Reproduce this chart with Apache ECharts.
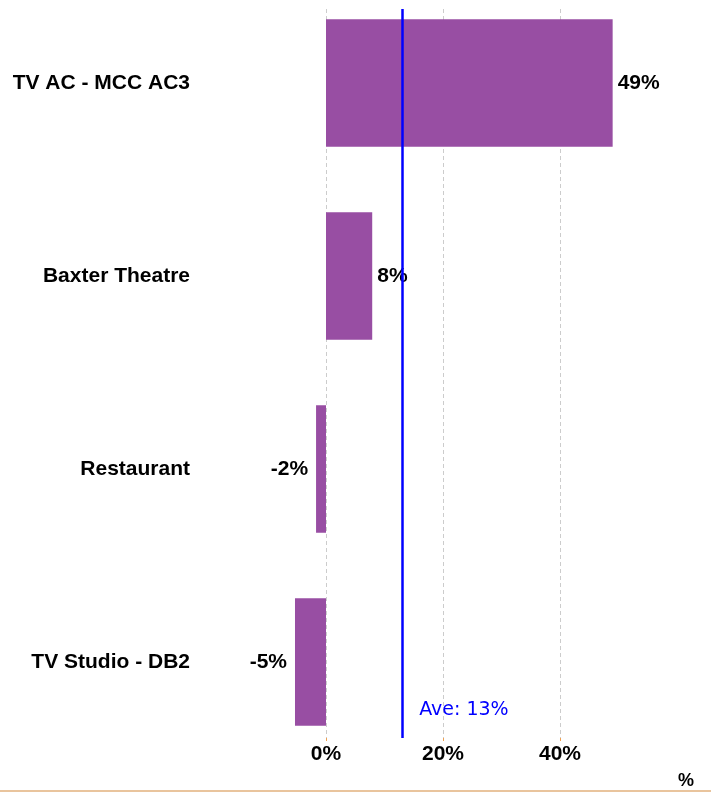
<!DOCTYPE html>
<html>
<head>
    <meta charset="utf-8">
    <title>chart</title>
    <script src="https://cdn.jsdelivr.net/npm/echarts@6/dist/echarts.min.js"></script>
    <style>
        html, body { margin: 0; padding: 0; background: #fff; }
        #main { width: 711px; height: 793px; }
    </style>
</head>
<body>
<div id="main"></div>
<script>
    // data
    var categories = ['TV AC - MCC AC3', 'Baxter Theatre', 'Restaurant', 'TV Studio - DB2'];
    var values = [0.49, 0.079, -0.017, -0.053];
    var average = 0.125;          // shown as "Ave: 13%"
    var tickValues = [0, 0.2, 0.4];
    var xMin = -0.2, xMax = 0.6, xStep = 0.2;

    var font = '"Liberation Sans", Arial, sans-serif';
    var pct = function (v) { return Math.round(v * 100) + '%'; };

    var barData = [];
    for (var i = 0; i < values.length; i++) {
        barData.push({
            value: values[i],
            label: {position: values[i] >= 0 ? 'right' : 'left', distance: values[i] >= 0 ? 5 : 8}
        });
    }

    var chart = echarts.init(document.getElementById('main'));
    var option = {
        animation: false,
        grid: [
            {left: 209, right: 34, top: -13.5, bottom: 34.5, outerBoundsMode: 'none'},   // bars
            {left: 209, right: 34, top: 9, bottom: 55, outerBoundsMode: 'none'}          // grid lines, ticks, average
        ],
        xAxis: [
            {gridIndex: 0, type: 'value', min: xMin, max: xMax, interval: xStep, show: false},
            {
                gridIndex: 1, type: 'value', min: xMin, max: xMax, interval: xStep,
                axisLine: {show: false},
                axisTick: {show: true, length: 3, customValues: tickValues, lineStyle: {color: '#f0a050'}},
                axisLabel: {
                    customValues: tickValues, formatter: pct, margin: 6,
                    color: '#000', fontWeight: 'bold', fontSize: 21, fontFamily: font
                },
                splitLine: {
                    show: true,
                    lineStyle: {color: '#cccccc', type: [4, 3], width: 1}
                }
            }
        ],
        yAxis: [
            {
                gridIndex: 0, type: 'category', data: categories, inverse: true,
                axisLine: {show: false}, axisTick: {show: false}, splitLine: {show: false},
                axisLabel: {margin: 19, color: '#000', fontWeight: 'bold', fontSize: 21, fontFamily: font}
            },
            {gridIndex: 1, type: 'category', data: categories, inverse: true, show: false}
        ],
        series: [
            {
                type: 'bar', xAxisIndex: 0, yAxisIndex: 0,
                data: barData, barWidth: '66%',
                itemStyle: {color: '#984ea3'},
                label: {
                    show: true, formatter: function (p) { return pct(p.value); },
                    color: '#000', fontWeight: 'bold', fontSize: 21, fontFamily: font
                }
            },
            {
                type: 'line', xAxisIndex: 1, yAxisIndex: 1, data: [],
                markLine: {
                    silent: true, symbol: 'none', animation: false,
                    label: {show: false},
                    lineStyle: {color: '#0000ff', width: 2.5, type: 'solid'},
                    data: [{xAxis: average}]
                }
            }
        ]
    };
    chart.setOption(option);

    // text labels placed from the axis scale
    var avePx = chart.convertToPixel({xAxisIndex: 1}, average);
    chart.setOption({
        graphic: [
            {
                type: 'text', left: avePx + 20, top: 701,
                style: {text: 'Ave: ' + pct(average), fill: '#0000ff', font: '19px "DejaVu Sans", Tahoma, sans-serif'}
            },
            {
                type: 'text', left: 678, top: 772,
                style: {text: '%', fill: '#000', font: 'bold 18px ' + font}
            },
            {
                type: 'line', shape: {x1: 0, y1: 791, x2: 711, y2: 791},
                style: {stroke: '#e2b07c', lineWidth: 1.5}
            }
        ]
    });
</script>
</body>
</html>
